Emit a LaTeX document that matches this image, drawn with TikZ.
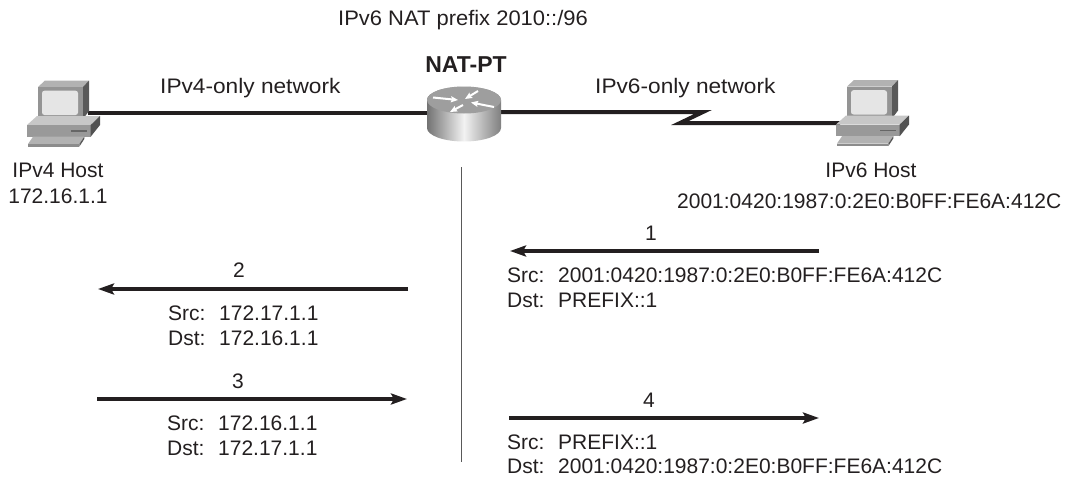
\documentclass[tikz,border=0pt]{standalone}
\usepackage{fontspec}
\setmainfont{Liberation Sans}
\usetikzlibrary{arrows.meta,calc}
\definecolor{linek}{HTML}{231F20}
\definecolor{txt}{HTML}{231F20}
\newcommand{\srcdst}[2]{\makebox[51pt][l]{#1}#2}
\tikzset{
  x=1pt,y=-1pt,
  lbl/.style={inner sep=0pt,text=txt,font=\fontsize{21}{24}\selectfont},
  lb/.style={lbl,anchor=base},
  lw/.style={lbl,anchor=base west},
  link/.style={line width=4pt,linek},
  msg/.style={line width=3.4pt,linek,-{Stealth[length=16pt,width=11pt,inset=3pt]}},
  sep/.style={line width=1pt,black!65},
  rarrow/.style={line width=2pt,white,-{Stealth[length=7pt,width=6pt,inset=1pt]}},
  pc/.pic={
    \fill[black!30] (38,87)--(45,80.5)--(89,80.5)--(83,87)--cycle;
    \fill[black!42] (38,87) rectangle (83,119);
    \fill[black!65] (83,87)--(89,80.5)--(89,111)--(83,119)--cycle;
    \fill[black!10,rounded corners=2.5pt] (42,90.7) rectangle (78,115);
    \fill[black!60] (40,119) rectangle (83,122);
    \fill[black!22] (27,125)--(37,116)--(100,116)--(90.7,125)--cycle;
    \fill[black!40] (27,125) rectangle (90.7,136.7);
    \fill[black!68] (90.7,125)--(100,116)--(100,125)--(90.7,136.7)--cycle;
    \fill[black!60] (71,130) rectangle (87,131.7);
    \fill[black!30] (33,136.7)--(84.3,136.7)--(79.3,144)--(28,144)--cycle;
    \fill[black!45] (28,144) rectangle (79.3,146.7);
    \fill[black!65] (79.3,144)--(84.3,136.7)--(84.3,139)--(79.3,146.7)--cycle;
  },
}
\begin{document}
\begin{tikzpicture}
\useasboundingbox (0,0) rectangle (1066,490);
% connector anchors
\coordinate (hostL) at (88,112.5);
\coordinate (rtrL) at (428,112.5);
\coordinate (rtrR) at (500,112);
\coordinate (zigA) at (703,112);
\coordinate (zigB) at (680,123);
\coordinate (hostR) at (840,123);
\coordinate (sepT) at (461,167);
\coordinate (sepB) at (461,462);
\coordinate (a1s) at (819,251);\coordinate (a1e) at (510,251);
\coordinate (a2s) at (408,289);\coordinate (a2e) at (98,289);
\coordinate (a3s) at (97,399);\coordinate (a3e) at (407,399);
\coordinate (a4s) at (509,418);\coordinate (a4e) at (819,418);
% links
\draw[link] (hostL) -- (rtrL);
\draw[link,line join=miter] (rtrR) -- (zigA) -- (zigB) -- (hostR);
% computers
\pic at (0,0) {pc};
\pic at (809,-0.5) {pc};
% router
\shade[left color=black!55,right color=black!50,middle color=black!5]
  (427,100) -- (427,128) arc[start angle=180,end angle=360,x radius=37pt,y radius=13.5pt]
  -- (501,100) arc[start angle=0,end angle=180,x radius=37pt,y radius=13.5pt] -- cycle;
\fill[black!38] (464,100) ellipse[x radius=37pt,y radius=13.5pt];
\draw[rarrow] (433,97.5) -- (458,100);
\draw[rarrow] (494,107) -- (471,102.5);
\draw[rarrow] (478,91) -- (465,99);
\draw[rarrow] (463,105) -- (450,112);
% separator and messages
\draw[sep] (sepT) -- (sepB);
\draw[msg] (a1s) -- (a1e);
\draw[msg] (a2s) -- (a2e);
\draw[msg] (a3s) -- (a3e);
\draw[msg] (a4s) -- (a4e);
% labels
\node[lw] (prefix) at (338,25) {\addfontfeature{FakeStretch=1.045}IPv6 NAT prefix 2010::/96};
\node[lb,font=\fontsize{23}{26}\selectfont\bfseries] (natpt) at (466,72) {NAT-PT};
\node[lw] (v4net) at (160,93) {\addfontfeature{FakeStretch=1.08}IPv4-only network};
\node[lw] (v6net) at (595,93) {\addfontfeature{FakeStretch=1.08}IPv6-only network};
\node[lb] (h4a) at (58,177) {IPv4 Host};
\node[lb] (h4b) at (58,203) {172.16.1.1};
\node[lb] (h6a) at (871,177) {IPv6 Host};
\node[lw] (h6b) at (677,208) {2001:0420:1987:0:2E0:B0FF:FE6A:412C};
\node[lb] (n1) at (651,240) {1};
\node[lw] (s1) at (507,282) {\srcdst{Src:}{2001:0420:1987:0:2E0:B0FF:FE6A:412C}};
\node[lw] (d1) at (507,307) {\srcdst{Dst:}{PREFIX::1}};
\node[lb] (n2) at (239,277) {2};
\node[lw] (s2) at (168,320) {\srcdst{Src:}{172.17.1.1}};
\node[lw] (d2) at (168,345) {\srcdst{Dst:}{172.16.1.1}};
\node[lb] (n3) at (238,388) {3};
\node[lw] (s3) at (167,430) {\srcdst{Src:}{172.16.1.1}};
\node[lw] (d3) at (167,455) {\srcdst{Dst:}{172.17.1.1}};
\node[lb] (n4) at (649,407) {4};
\node[lw] (s4) at (507,449) {\srcdst{Src:}{PREFIX::1}};
\node[lw] (d4) at (507,473) {\srcdst{Dst:}{2001:0420:1987:0:2E0:B0FF:FE6A:412C}};
\end{tikzpicture}
\end{document}
